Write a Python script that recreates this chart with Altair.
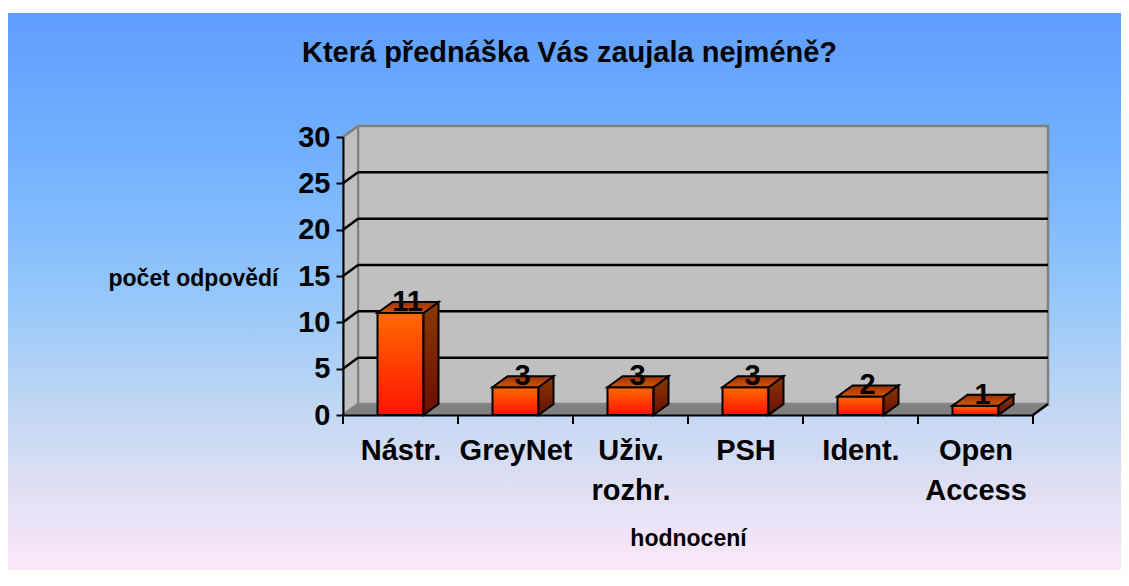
import json
import altair as alt
import pandas as pd

# ---------------- data ----------------
categories = ["Nástr.", "GreyNet", "Uživ.\nrozhr.", "PSH", "Ident.", "Open\nAccess"]
values = [11, 3, 3, 3, 2, 1]
y_ticks = [0, 5, 10, 15, 20, 25, 30]
title_text = "Která přednáška Vás zaujala nejméně?"
x_title = "hodnocení"
y_title = "počet odpovědí"

# ---------------- geometry / style ----------------
W, H = 690, 278
PAD = {"left": 335, "top": 129, "right": 88, "bottom": 155}
N = len(categories)
YMAX = y_ticks[-1]
DEPTH_X, DEPTH_Y = 15, 11           # 3-D depth in pixels
DX = N * DEPTH_X / W                 # depth in data units
DY = YMAX * DEPTH_Y / H
BAR_W = 0.4
FONT = "Liberation Sans"

xs = alt.Scale(domain=[0, N], nice=False, zero=False)
ys = alt.Scale(domain=[0, YMAX], nice=False, zero=False)

label_expr = "split(" + json.dumps(categories, ensure_ascii=False) + "[floor(datum.value)], '\\n')"

x_axis = alt.Axis(
    values=[i + 0.5 for i in range(N)], labelExpr=label_expr, ticks=False, grid=False,
    domainColor="black", domainWidth=2, labelFont=FONT, labelFontSize=29,
    labelFontWeight="bold", labelColor="black", labelBaseline="alphabetic",
    labelPadding=44, labelLineHeight=40, labelOverlap=False, labelFlush=False,
    title=x_title, titleFont=FONT, titleFontSize=23, titleFontWeight="bold",
    titleColor="black", titleX=W / 2, titleY=130, titleAlign="center",
    titleBaseline="alphabetic", zindex=1,
)
y_axis = alt.Axis(
    values=y_ticks, tickSize=7, tickWidth=2, tickColor="black", domainColor="black",
    domainWidth=2, grid=False, labelFont=FONT, labelFontSize=29, labelFontWeight="bold",
    labelColor="black", labelPadding=6, labelOverlap=False, labelFlush=False,
    title=y_title, titleAngle=0, titleAlign="left", titleBaseline="alphabetic",
    titleX=-235, titleY=148, titleFont=FONT, titleFontSize=23, titleFontWeight="bold",
    titleColor="black", zindex=1,
)


def X(f, **kw):
    return alt.X(f, type="quantitative", scale=xs, axis=x_axis, **kw)


def Y(f, **kw):
    return alt.Y(f, type="quantitative", scale=ys, axis=y_axis, **kw)


def vgrad(stops):
    return alt.Gradient(
        gradient="linear", x1=0, x2=0, y1=0, y2=1,
        stops=[alt.GradientStop(color=c, offset=o) for o, c in stops],
    )


bg_grad = vgrad([(0, "#5e9eff"), (0.25, "#72b0ff"), (0.5, "#93c6fa"),
                 (0.72, "#c3d8f2"), (0.87, "#e3e0f4"), (1, "#fbe8f8")])
front_grad = vgrad([(0, "#ff6a00"), (1, "#ff1400")])
side_grad = vgrad([(0, "#8a3a00"), (1, "#6c0c00")])
top_grad = vgrad([(0, "#9a3300"), (1, "#d85400")])

# ---------------- frames ----------------
one = pd.DataFrame({"k": [0]})
back_wall = pd.DataFrame({"x": [DX], "x2": [N + DX], "y": [DY], "y2": [YMAX + DY]})
left_wall = pd.DataFrame({"x": [0, DX], "lo": [0, DY], "hi": [YMAX, YMAX + DY]})
floor = pd.DataFrame({"y": [0, DY], "a": [0, DX], "b": [N, N + DX]})
grid = pd.DataFrame({"x": [DX] * (len(y_ticks) - 2), "x2": [N + DX] * (len(y_ticks) - 2),
                     "y": [v + DY for v in y_ticks[1:-1]]})
diag = pd.DataFrame({
    "x": [0] * len(y_ticks), "x2": [DX] * len(y_ticks),
    "y": y_ticks, "y2": [v + DY for v in y_ticks],
    "c": ["#808080" if v in (0, YMAX) else "black" for v in y_ticks],
})
floor_edge = pd.DataFrame({"x": [N], "x2": [N + DX], "y": [0], "y2": [DY]})
bounds = pd.DataFrame({"k": list(range(N + 1))})

bars = pd.DataFrame({
    "id": list(range(N)), "v": values,
    "left": [i + 0.5 - BAR_W / 2 for i in range(N)],
    "right": [i + 0.5 + BAR_W / 2 for i in range(N)],
    "center": [i + 0.5 for i in range(N)],
    "zero": [0] * N,
})
side_rows, top_rows = [], []
for i, v in enumerate(values):
    l, r = i + 0.5 - BAR_W / 2, i + 0.5 + BAR_W / 2
    side_rows += [{"id": i, "x": r, "top": v, "bot": 0},
                  {"id": i, "x": r + DX, "top": v + DY, "bot": DY}]
    top_rows += [{"id": i, "y": v, "a": l, "b": r},
                 {"id": i, "y": v + DY, "a": l + DX, "b": r + DX}]
side = pd.DataFrame(side_rows)
topf = pd.DataFrame(top_rows)
title_df = pd.DataFrame({"t": [title_text]})

# ---------------- layers ----------------
bg = alt.Chart(one).mark_rect(fill=bg_grad).encode(
    x=alt.value(-PAD["left"]), x2=alt.value(W + PAD["right"]),
    y=alt.value(-124), y2=alt.value(H + PAD["bottom"]),
)
wall = alt.Chart(back_wall).mark_rect(fill="#c0c0c0", stroke="#808080", strokeWidth=2.5).encode(
    x=X("x"), x2=alt.X2("x2"), y=Y("y"), y2=alt.Y2("y2"))
lwall = alt.Chart(left_wall).mark_area(orient="vertical", fill="#c0c0c0", stroke="#808080",
                                       strokeWidth=2).encode(
    x=X("x"), y=Y("lo", stack=False), y2=alt.Y2("hi"))
flr = alt.Chart(floor).mark_area(orient="horizontal", fill="#808080", stroke="#8a8a8a",
                                 strokeWidth=1).encode(
    y=Y("y"), x=X("a", stack=False), x2=alt.X2("b"))
grid_l = alt.Chart(grid).mark_rule(color="black", strokeWidth=2.5).encode(
    x=X("x"), x2=alt.X2("x2"), y=Y("y"))
diag_l = alt.Chart(diag).mark_rule(strokeWidth=2.5).encode(
    x=X("x"), x2=alt.X2("x2"), y=Y("y"), y2=alt.Y2("y2"), color=alt.Color("c:N", scale=None))
edge_l = alt.Chart(floor_edge).mark_rule(color="black", strokeWidth=2.5).encode(
    x=X("x"), x2=alt.X2("x2"), y=Y("y"), y2=alt.Y2("y2"))
ticks_l = alt.Chart(bounds).mark_rule(color="black", strokeWidth=2).encode(
    x=X("k"), y=alt.value(H), y2=alt.value(H + 9))

front = alt.Chart(bars).mark_rect(fill=front_grad, stroke="black", strokeWidth=2).encode(
    x=X("left"), x2=alt.X2("right"), y=Y("zero"), y2=alt.Y2("v"))
side_l = alt.Chart(side).mark_area(orient="vertical", fill=side_grad, stroke="black",
                                   strokeWidth=2).encode(
    x=X("x"), y=Y("top", stack=False), y2=alt.Y2("bot"), detail="id:N")
top_l = alt.Chart(topf).mark_area(orient="horizontal", fill=top_grad, stroke="black",
                                  strokeWidth=2).encode(
    y=Y("y"), x=X("a", stack=False), x2=alt.X2("b"), detail="id:N")
labels = alt.Chart(bars).mark_text(
    font=FONT, fontSize=29, fontWeight="bold", color="black", baseline="alphabetic",
    align="center", dx=7, dy=-2).encode(x=X("center"), y=Y("v"), text="v:Q")
title_l = alt.Chart(title_df).mark_text(
    font=FONT, fontSize=29, fontWeight="bold", color="black", baseline="alphabetic",
    align="center").encode(x=alt.value(226.5), y=alt.value(-75), text="t:N")

chart = alt.layer(
    bg, wall, lwall, flr, grid_l, diag_l, edge_l, ticks_l,
    front, side_l, top_l, labels, title_l,
).properties(
    width=W, height=H, padding=PAD, autosize=alt.AutoSizeParams(type="none"),
).configure_view(strokeWidth=0)

chart.save("out.html", embed_options={"renderer": "svg", "actions": False})
